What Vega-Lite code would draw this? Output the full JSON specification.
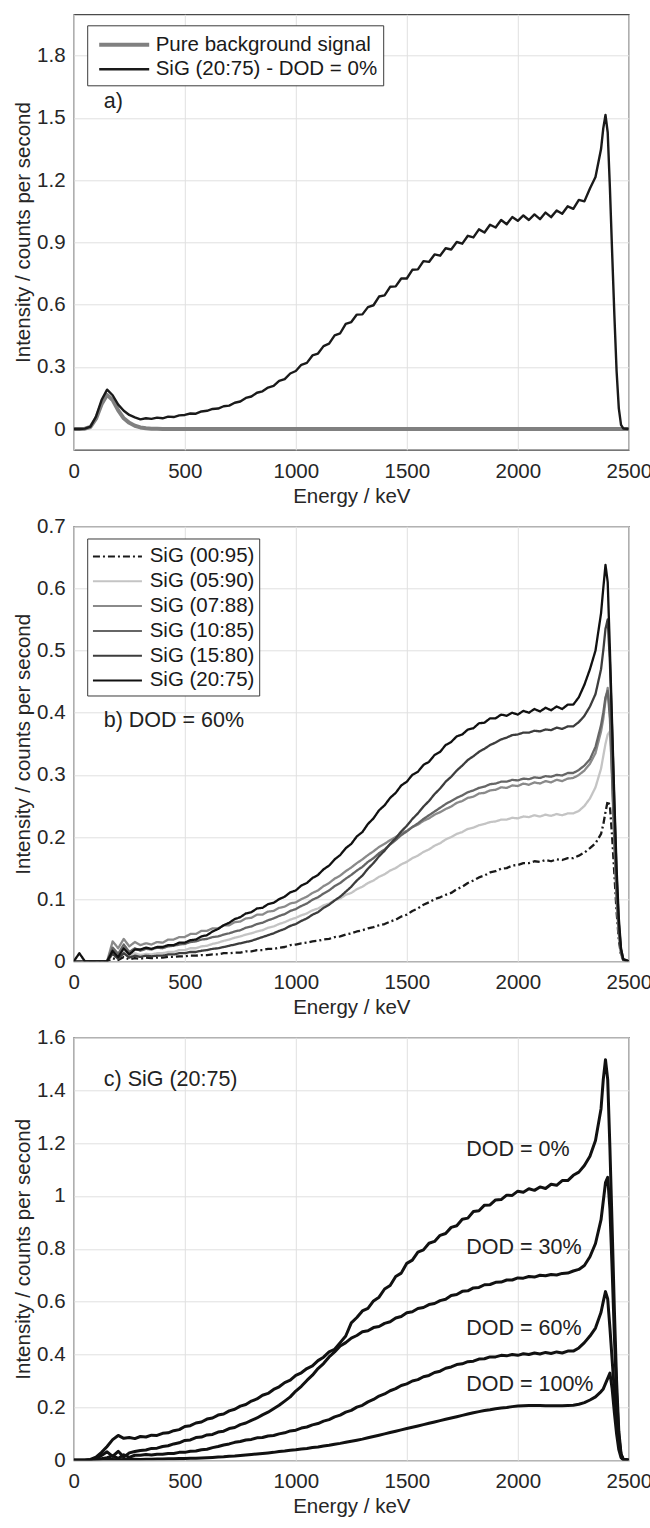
{
"$schema": "https://vega.github.io/schema/vega-lite/v6.json",
"padding": {"left": 12.8, "top": 13.3, "right": 0, "bottom": 0},
"bounds": "flush",
"spacing": 76,
"resolve": {"scale": {"color": "independent", "strokeDash": "independent", "strokeWidth": "independent"}, "legend": {"color": "independent", "strokeDash": "independent", "strokeWidth": "independent"}},
"config": {
 "font": "Liberation Sans",
 "view": {"stroke": "#4a4a4a", "strokeWidth": 1.2},
 "axis": {"grid": true, "gridColor": "#e0e0e0", "gridWidth": 1, "domain": false, "ticks": false, "tickSize": 0, "labelFontSize": 20.5, "labelColor": "#262626", "titleFontSize": 20.5, "titleFontWeight": "normal", "titleColor": "#262626", "labelFont": "Liberation Sans", "titleFont": "Liberation Sans", "labelOverlap": false, "labelFlush": false, "labelBound": false},
 "axisX": {"labelBaseline": "alphabetic", "labelPadding": 27.5, "titleY": 52.5, "titleBaseline": "alphabetic"},
 "axisY": {"labelPadding": 8.7, "titleX": -50.3, "titleBaseline": "middle"},
 "legend": {"labelLimit": 400, "labelFont": "Liberation Sans", "labelFontSize": 20.5, "labelColor": "#1a1a1a"}
},
"datasets": {
"a": [
{"E":0,"bg":0,"sig":0},{"E":25,"bg":0,"sig":0},{"E":50,"bg":0.002,"sig":0.002},{"E":75,"bg":0.01,"sig":0.012},{"E":100,"bg":0.05,"sig":0.06},{"E":125,"bg":0.12,"sig":0.14},{"E":150,"bg":0.165,"sig":0.19},{"E":175,"bg":0.14,"sig":0.163},{"E":200,"bg":0.09,"sig":0.118},{"E":225,"bg":0.052,"sig":0.088},{"E":250,"bg":0.03,"sig":0.068},{"E":275,"bg":0.016,"sig":0.056},{"E":300,"bg":0.008,"sig":0.047},{"E":325,"bg":0.004,"sig":0.052},{"E":350,"bg":0.002,"sig":0.049},{"E":375,"bg":0.001,"sig":0.055},
{"E":400,"bg":0,"sig":0.052},{"E":425,"bg":0,"sig":0.06},{"E":450,"bg":0,"sig":0.058},{"E":475,"bg":0,"sig":0.066},{"E":500,"bg":0,"sig":0.068},{"E":525,"bg":0,"sig":0.075},{"E":550,"bg":0,"sig":0.074},{"E":575,"bg":0,"sig":0.085},{"E":600,"bg":0,"sig":0.088},{"E":625,"bg":0,"sig":0.097},{"E":650,"bg":0,"sig":0.099},{"E":675,"bg":0,"sig":0.11},{"E":700,"bg":0,"sig":0.113},{"E":725,"bg":0,"sig":0.127},{"E":750,"bg":0,"sig":0.133},{"E":775,"bg":0,"sig":0.15},{"E":800,"bg":0,"sig":0.157},{"E":825,"bg":0,"sig":0.175},{"E":850,"bg":0,"sig":0.182},{"E":875,"bg":0,"sig":0.2},{"E":900,"bg":0,"sig":0.208},{"E":925,"bg":0,"sig":0.232},{"E":950,"bg":0,"sig":0.241},{"E":975,"bg":0,"sig":0.268},{"E":1000,"bg":0,"sig":0.28},{"E":1025,"bg":0,"sig":0.31},{"E":1050,"bg":0,"sig":0.319},{"E":1075,"bg":0,"sig":0.355},{"E":1100,"bg":0,"sig":0.364},{"E":1125,"bg":0,"sig":0.4},{"E":1150,"bg":0,"sig":0.412},{"E":1175,"bg":0,"sig":0.452},{"E":1200,"bg":0,"sig":0.462},{"E":1225,"bg":0,"sig":0.507},{"E":1250,"bg":0,"sig":0.516},{"E":1275,"bg":0,"sig":0.552},{"E":1300,"bg":0,"sig":0.553},{"E":1325,"bg":0,"sig":0.588},{"E":1350,"bg":0,"sig":0.597},{"E":1375,"bg":0,"sig":0.639},{"E":1400,"bg":0,"sig":0.645},{"E":1425,"bg":0,"sig":0.686},{"E":1450,"bg":0,"sig":0.688},{"E":1475,"bg":0,"sig":0.726},{"E":1500,"bg":0,"sig":0.726},{"E":1525,"bg":0,"sig":0.768},{"E":1550,"bg":0,"sig":0.77},{"E":1575,"bg":0,"sig":0.81},{"E":1600,"bg":0,"sig":0.806},{"E":1625,"bg":0,"sig":0.842},{"E":1650,"bg":0,"sig":0.836},{"E":1675,"bg":0,"sig":0.872},{"E":1700,"bg":0,"sig":0.866},{"E":1725,"bg":0,"sig":0.902},{"E":1750,"bg":0,"sig":0.894},{"E":1775,"bg":0,"sig":0.932},{"E":1800,"bg":0,"sig":0.924},{"E":1825,"bg":0,"sig":0.963},{"E":1850,"bg":0,"sig":0.948},{"E":1875,"bg":0,"sig":0.985},{"E":1900,"bg":0,"sig":0.972},{"E":1925,"bg":0,"sig":1.008},{"E":1950,"bg":0,"sig":0.988},{"E":1975,"bg":0,"sig":1.022},{"E":2000,"bg":0,"sig":1.004},{"E":2025,"bg":0,"sig":1.03},{"E":2050,"bg":0,"sig":1.008},{"E":2075,"bg":0,"sig":1.035},{"E":2100,"bg":0,"sig":1.012},{"E":2125,"bg":0,"sig":1.044},{"E":2150,"bg":0,"sig":1.022},{"E":2175,"bg":0,"sig":1.054},{"E":2200,"bg":0,"sig":1.038},{"E":2225,"bg":0,"sig":1.074},{"E":2250,"bg":0,"sig":1.062},{"E":2275,"bg":0,"sig":1.105},{"E":2300,"bg":0,"sig":1.098},{"E":2325,"bg":0,"sig":1.16},{"E":2350,"bg":0,"sig":1.215},{"E":2375,"bg":0,"sig":1.35},{"E":2385,"bg":0,"sig":1.45},{"E":2395,"bg":0,"sig":1.515},{"E":2405,"bg":0,"sig":1.43},{"E":2415,"bg":0,"sig":1.16},{"E":2425,"bg":0,"sig":0.85},{"E":2435,"bg":0,"sig":0.55},{"E":2445,"bg":0,"sig":0.28},{"E":2455,"bg":0,"sig":0.1},{"E":2465,"bg":0,"sig":0.02},{"E":2475,"bg":0,"sig":0.003},{"E":2500,"bg":0,"sig":0}
],
"b": [
{"E":0,"00:95":0,"05:90":0,"07:88":0,"10:85":0,"15:80":0,"20:75":0},
{"E":25,"00:95":0,"05:90":0,"07:88":0,"10:85":0,"15:80":0,"20:75":0.013},
{"E":50,"00:95":0,"05:90":0,"07:88":0,"10:85":0,"15:80":0,"20:75":0},
{"E":75,"00:95":0,"05:90":0,"07:88":0,"10:85":0,"15:80":0,"20:75":0},
{"E":100,"00:95":0,"05:90":0,"07:88":0,"10:85":0,"15:80":0,"20:75":0},
{"E":125,"00:95":0,"05:90":0,"07:88":0,"10:85":0,"15:80":0,"20:75":0},
{"E":150,"00:95":0,"05:90":0,"07:88":0,"10:85":0,"15:80":0,"20:75":0},
{"E":175,"00:95":0.005,"05:90":0.016,"07:88":0.032,"10:85":0.022,"15:80":0.012,"20:75":0.017},
{"E":200,"00:95":0.002,"05:90":0.007,"07:88":0.021,"10:85":0.012,"15:80":0.004,"20:75":0.007},
{"E":225,"00:95":0.007,"05:90":0.016,"07:88":0.036,"10:85":0.027,"15:80":0.013,"20:75":0.021},
{"E":250,"00:95":0.003,"05:90":0.009,"07:88":0.024,"10:85":0.015,"15:80":0.006,"20:75":0.011},
{"E":275,"00:95":0.005,"05:90":0.013,"07:88":0.031,"10:85":0.021,"15:80":0.009,"20:75":0.019},
{"E":300,"00:95":0.004,"05:90":0.01,"07:88":0.026,"10:85":0.017,"15:80":0.007,"20:75":0.019},
{"E":325,"00:95":0.006,"05:90":0.012,"07:88":0.029,"10:85":0.02,"15:80":0.009,"20:75":0.022},
{"E":350,"00:95":0.005,"05:90":0.011,"07:88":0.027,"10:85":0.019,"15:80":0.008,"20:75":0.02},
{"E":375,"00:95":0.006,"05:90":0.013,"07:88":0.031,"10:85":0.022,"15:80":0.009,"20:75":0.023},
{"E":400,"00:95":0.006,"05:90":0.013,"07:88":0.03,"10:85":0.021,"15:80":0.009,"20:75":0.023},
{"E":425,"00:95":0.007,"05:90":0.015,"07:88":0.035,"10:85":0.024,"15:80":0.011,"20:75":0.026},
{"E":450,"00:95":0.007,"05:90":0.015,"07:88":0.035,"10:85":0.025,"15:80":0.011,"20:75":0.026},
{"E":475,"00:95":0.008,"05:90":0.018,"07:88":0.039,"10:85":0.027,"15:80":0.013,"20:75":0.03},
{"E":500,"00:95":0.008,"05:90":0.018,"07:88":0.039,"10:85":0.028,"15:80":0.013,"20:75":0.03},
{"E":525,"00:95":0.009,"05:90":0.021,"07:88":0.044,"10:85":0.031,"15:80":0.015,"20:75":0.034},
{"E":550,"00:95":0.009,"05:90":0.021,"07:88":0.044,"10:85":0.032,"15:80":0.015,"20:75":0.035},
{"E":575,"00:95":0.01,"05:90":0.024,"07:88":0.049,"10:85":0.035,"15:80":0.017,"20:75":0.04},
{"E":600,"00:95":0.01,"05:90":0.025,"07:88":0.049,"10:85":0.036,"15:80":0.018,"20:75":0.042},
{"E":625,"00:95":0.011,"05:90":0.028,"07:88":0.053,"10:85":0.039,"15:80":0.02,"20:75":0.048},
{"E":650,"00:95":0.011,"05:90":0.03,"07:88":0.053,"10:85":0.04,"15:80":0.021,"20:75":0.052},
{"E":675,"00:95":0.013,"05:90":0.033,"07:88":0.058,"10:85":0.043,"15:80":0.023,"20:75":0.058},
{"E":700,"00:95":0.013,"05:90":0.035,"07:88":0.058,"10:85":0.045,"15:80":0.025,"20:75":0.062},
{"E":725,"00:95":0.014,"05:90":0.038,"07:88":0.063,"10:85":0.048,"15:80":0.027,"20:75":0.068},
{"E":750,"00:95":0.014,"05:90":0.04,"07:88":0.064,"10:85":0.05,"15:80":0.029,"20:75":0.071},
{"E":775,"00:95":0.016,"05:90":0.043,"07:88":0.069,"10:85":0.054,"15:80":0.031,"20:75":0.077},
{"E":800,"00:95":0.016,"05:90":0.045,"07:88":0.07,"10:85":0.056,"15:80":0.033,"20:75":0.079},
{"E":825,"00:95":0.018,"05:90":0.048,"07:88":0.075,"10:85":0.06,"15:80":0.036,"20:75":0.085},
{"E":850,"00:95":0.018,"05:90":0.05,"07:88":0.075,"10:85":0.062,"15:80":0.039,"20:75":0.086},
{"E":875,"00:95":0.02,"05:90":0.054,"07:88":0.08,"10:85":0.066,"15:80":0.042,"20:75":0.092},
{"E":900,"00:95":0.02,"05:90":0.056,"07:88":0.081,"10:85":0.069,"15:80":0.045,"20:75":0.094},
{"E":925,"00:95":0.022,"05:90":0.06,"07:88":0.086,"10:85":0.073,"15:80":0.049,"20:75":0.1},
{"E":950,"00:95":0.023,"05:90":0.063,"07:88":0.088,"10:85":0.076,"15:80":0.052,"20:75":0.104},
{"E":975,"00:95":0.026,"05:90":0.067,"07:88":0.093,"10:85":0.081,"15:80":0.057,"20:75":0.111},
{"E":1000,"00:95":0.027,"05:90":0.07,"07:88":0.095,"10:85":0.084,"15:80":0.06,"20:75":0.114},
{"E":1025,"00:95":0.029,"05:90":0.074,"07:88":0.1,"10:85":0.089,"15:80":0.065,"20:75":0.122},
{"E":1050,"00:95":0.03,"05:90":0.077,"07:88":0.104,"10:85":0.093,"15:80":0.069,"20:75":0.126},
{"E":1075,"00:95":0.032,"05:90":0.082,"07:88":0.11,"10:85":0.099,"15:80":0.075,"20:75":0.134},
{"E":1100,"00:95":0.033,"05:90":0.085,"07:88":0.114,"10:85":0.103,"15:80":0.079,"20:75":0.139},
{"E":1125,"00:95":0.035,"05:90":0.09,"07:88":0.121,"10:85":0.109,"15:80":0.086,"20:75":0.148},
{"E":1150,"00:95":0.036,"05:90":0.093,"07:88":0.126,"10:85":0.114,"15:80":0.091,"20:75":0.154},
{"E":1175,"00:95":0.039,"05:90":0.098,"07:88":0.133,"10:85":0.121,"15:80":0.098,"20:75":0.164},
{"E":1200,"00:95":0.04,"05:90":0.101,"07:88":0.138,"10:85":0.126,"15:80":0.104,"20:75":0.171},
{"E":1225,"00:95":0.043,"05:90":0.107,"07:88":0.145,"10:85":0.133,"15:80":0.112,"20:75":0.182},
{"E":1250,"00:95":0.045,"05:90":0.11,"07:88":0.151,"10:85":0.139,"15:80":0.12,"20:75":0.189},
{"E":1275,"00:95":0.048,"05:90":0.116,"07:88":0.158,"10:85":0.146,"15:80":0.13,"20:75":0.201},
{"E":1300,"00:95":0.05,"05:90":0.12,"07:88":0.164,"10:85":0.152,"15:80":0.138,"20:75":0.208},
{"E":1325,"00:95":0.053,"05:90":0.126,"07:88":0.171,"10:85":0.16,"15:80":0.149,"20:75":0.221},
{"E":1350,"00:95":0.055,"05:90":0.13,"07:88":0.177,"10:85":0.166,"15:80":0.158,"20:75":0.23},
{"E":1375,"00:95":0.058,"05:90":0.136,"07:88":0.184,"10:85":0.174,"15:80":0.169,"20:75":0.243},
{"E":1400,"00:95":0.06,"05:90":0.14,"07:88":0.189,"10:85":0.18,"15:80":0.178,"20:75":0.251},
{"E":1425,"00:95":0.064,"05:90":0.146,"07:88":0.195,"10:85":0.188,"15:80":0.189,"20:75":0.263},
{"E":1450,"00:95":0.067,"05:90":0.15,"07:88":0.2,"10:85":0.195,"15:80":0.198,"20:75":0.271},
{"E":1475,"00:95":0.072,"05:90":0.156,"07:88":0.206,"10:85":0.203,"15:80":0.209,"20:75":0.283},
{"E":1500,"00:95":0.075,"05:90":0.16,"07:88":0.21,"10:85":0.209,"15:80":0.218,"20:75":0.289},
{"E":1525,"00:95":0.081,"05:90":0.166,"07:88":0.216,"10:85":0.216,"15:80":0.229,"20:75":0.3},
{"E":1550,"00:95":0.085,"05:90":0.17,"07:88":0.22,"10:85":0.222,"15:80":0.238,"20:75":0.305},
{"E":1575,"00:95":0.091,"05:90":0.176,"07:88":0.226,"10:85":0.229,"15:80":0.249,"20:75":0.316},
{"E":1600,"00:95":0.095,"05:90":0.18,"07:88":0.23,"10:85":0.235,"15:80":0.258,"20:75":0.321},
{"E":1625,"00:95":0.1,"05:90":0.186,"07:88":0.236,"10:85":0.241,"15:80":0.269,"20:75":0.332},
{"E":1650,"00:95":0.103,"05:90":0.19,"07:88":0.24,"10:85":0.247,"15:80":0.278,"20:75":0.337},
{"E":1675,"00:95":0.107,"05:90":0.196,"07:88":0.245,"10:85":0.253,"15:80":0.289,"20:75":0.348},
{"E":1700,"00:95":0.11,"05:90":0.2,"07:88":0.249,"10:85":0.258,"15:80":0.297,"20:75":0.353},
{"E":1725,"00:95":0.116,"05:90":0.205,"07:88":0.255,"10:85":0.263,"15:80":0.307,"20:75":0.362},
{"E":1750,"00:95":0.12,"05:90":0.208,"07:88":0.258,"10:85":0.267,"15:80":0.315,"20:75":0.365},
{"E":1775,"00:95":0.126,"05:90":0.213,"07:88":0.263,"10:85":0.272,"15:80":0.324,"20:75":0.373},
{"E":1800,"00:95":0.13,"05:90":0.215,"07:88":0.265,"10:85":0.275,"15:80":0.33,"20:75":0.375},
{"E":1825,"00:95":0.135,"05:90":0.219,"07:88":0.27,"10:85":0.279,"15:80":0.337,"20:75":0.383},
{"E":1850,"00:95":0.138,"05:90":0.221,"07:88":0.271,"10:85":0.281,"15:80":0.342,"20:75":0.384},
{"E":1875,"00:95":0.143,"05:90":0.224,"07:88":0.275,"10:85":0.285,"15:80":0.348,"20:75":0.391},
{"E":1900,"00:95":0.145,"05:90":0.225,"07:88":0.276,"10:85":0.286,"15:80":0.352,"20:75":0.391},
{"E":1925,"00:95":0.149,"05:90":0.228,"07:88":0.28,"10:85":0.289,"15:80":0.357,"20:75":0.397},
{"E":1950,"00:95":0.15,"05:90":0.228,"07:88":0.279,"10:85":0.289,"15:80":0.36,"20:75":0.395},
{"E":1975,"00:95":0.154,"05:90":0.231,"07:88":0.283,"10:85":0.292,"15:80":0.364,"20:75":0.4},
{"E":2000,"00:95":0.155,"05:90":0.23,"07:88":0.282,"10:85":0.291,"15:80":0.365,"20:75":0.397},
{"E":2025,"00:95":0.158,"05:90":0.233,"07:88":0.286,"10:85":0.294,"15:80":0.368,"20:75":0.403},
{"E":2050,"00:95":0.158,"05:90":0.232,"07:88":0.284,"10:85":0.293,"15:80":0.368,"20:75":0.4},
{"E":2075,"00:95":0.161,"05:90":0.235,"07:88":0.288,"10:85":0.296,"15:80":0.371,"20:75":0.406},
{"E":2100,"00:95":0.16,"05:90":0.233,"07:88":0.286,"10:85":0.295,"15:80":0.37,"20:75":0.402},
{"E":2125,"00:95":0.163,"05:90":0.236,"07:88":0.29,"10:85":0.298,"15:80":0.373,"20:75":0.408},
{"E":2150,"00:95":0.161,"05:90":0.234,"07:88":0.288,"10:85":0.297,"15:80":0.372,"20:75":0.404},
{"E":2175,"00:95":0.164,"05:90":0.237,"07:88":0.292,"10:85":0.3,"15:80":0.376,"20:75":0.41},
{"E":2200,"00:95":0.163,"05:90":0.235,"07:88":0.29,"10:85":0.299,"15:80":0.374,"20:75":0.406},
{"E":2225,"00:95":0.166,"05:90":0.238,"07:88":0.294,"10:85":0.303,"15:80":0.378,"20:75":0.413},
{"E":2250,"00:95":0.166,"05:90":0.238,"07:88":0.295,"10:85":0.303,"15:80":0.378,"20:75":0.413},
{"E":2275,"00:95":0.17,"05:90":0.242,"07:88":0.3,"10:85":0.308,"15:80":0.385,"20:75":0.425},
{"E":2300,"00:95":0.175,"05:90":0.25,"07:88":0.307,"10:85":0.315,"15:80":0.395,"20:75":0.445},
{"E":2325,"00:95":0.182,"05:90":0.262,"07:88":0.318,"10:85":0.325,"15:80":0.41,"20:75":0.47},
{"E":2350,"00:95":0.19,"05:90":0.28,"07:88":0.335,"10:85":0.345,"15:80":0.43,"20:75":0.5},
{"E":2375,"00:95":0.205,"05:90":0.31,"07:88":0.37,"10:85":0.38,"15:80":0.47,"20:75":0.56},
{"E":2385,"00:95":0.22,"05:90":0.33,"07:88":0.39,"10:85":0.4,"15:80":0.5,"20:75":0.6},
{"E":2395,"00:95":0.24,"05:90":0.35,"07:88":0.42,"10:85":0.425,"15:80":0.535,"20:75":0.638},
{"E":2405,"00:95":0.258,"05:90":0.365,"07:88":0.44,"10:85":0.435,"15:80":0.55,"20:75":0.61},
{"E":2415,"00:95":0.25,"05:90":0.37,"07:88":0.4,"10:85":0.39,"15:80":0.48,"20:75":0.5},
{"E":2425,"00:95":0.2,"05:90":0.3,"07:88":0.3,"10:85":0.29,"15:80":0.37,"20:75":0.38},
{"E":2435,"00:95":0.14,"05:90":0.2,"07:88":0.2,"10:85":0.19,"15:80":0.25,"20:75":0.26},
{"E":2445,"00:95":0.08,"05:90":0.11,"07:88":0.11,"10:85":0.1,"15:80":0.14,"20:75":0.15},
{"E":2455,"00:95":0.035,"05:90":0.05,"07:88":0.05,"10:85":0.045,"15:80":0.06,"20:75":0.07},
{"E":2465,"00:95":0.01,"05:90":0.015,"07:88":0.015,"10:85":0.012,"15:80":0.02,"20:75":0.02},
{"E":2475,"00:95":0.002,"05:90":0.003,"07:88":0.003,"10:85":0.002,"15:80":0.004,"20:75":0.003},
{"E":2500,"00:95":0,"05:90":0,"07:88":0,"10:85":0,"15:80":0,"20:75":0}
],
"c": [
{"E":0,"d0":0,"d30":0,"d60":0,"d100":0},{"E":25,"d0":0,"d30":0,"d60":0,"d100":0},{"E":50,"d0":0,"d30":0,"d60":0,"d100":0},{"E":75,"d0":0.003,"d30":0.002,"d60":0,"d100":0},{"E":100,"d0":0.012,"d30":0.006,"d60":0.002,"d100":0.001},{"E":125,"d0":0.03,"d30":0.018,"d60":0.006,"d100":0.002},{"E":150,"d0":0.052,"d30":0.032,"d60":0.01,"d100":0.003},{"E":175,"d0":0.078,"d30":0.015,"d60":0.017,"d100":0.003},{"E":200,"d0":0.094,"d30":0.034,"d60":0.007,"d100":0.002},{"E":225,"d0":0.083,"d30":0.012,"d60":0.021,"d100":0.003},{"E":250,"d0":0.086,"d30":0.028,"d60":0.011,"d100":0.003},{"E":275,"d0":0.082,"d30":0.033,"d60":0.019,"d100":0.004},{"E":300,"d0":0.09,"d30":0.037,"d60":0.019,"d100":0.003},{"E":325,"d0":0.088,"d30":0.039,"d60":0.022,"d100":0.004},{"E":350,"d0":0.095,"d30":0.045,"d60":0.02,"d100":0.004},{"E":375,"d0":0.094,"d30":0.046,"d60":0.023,"d100":0.005},{"E":400,"d0":0.102,"d30":0.052,"d60":0.023,"d100":0.005},{"E":425,"d0":0.104,"d30":0.055,"d60":0.026,"d100":0.006},{"E":450,"d0":0.112,"d30":0.062,"d60":0.026,"d100":0.006},{"E":475,"d0":0.116,"d30":0.066,"d60":0.03,"d100":0.007},{"E":500,"d0":0.128,"d30":0.075,"d60":0.03,"d100":0.007},{"E":525,"d0":0.131,"d30":0.077,"d60":0.034,"d100":0.008},{"E":550,"d0":0.141,"d30":0.086,"d60":0.035,"d100":0.008},{"E":575,"d0":0.145,"d30":0.088,"d60":0.04,"d100":0.009},{"E":600,"d0":0.156,"d30":0.096,"d60":0.042,"d100":0.01},{"E":625,"d0":0.16,"d30":0.098,"d60":0.048,"d100":0.011},{"E":650,"d0":0.171,"d30":0.107,"d60":0.052,"d100":0.012},{"E":675,"d0":0.175,"d30":0.11,"d60":0.058,"d100":0.013},{"E":700,"d0":0.187,"d30":0.12,"d60":0.062,"d100":0.015},{"E":725,"d0":0.193,"d30":0.124,"d60":0.068,"d100":0.016},{"E":750,"d0":0.205,"d30":0.135,"d60":0.071,"d100":0.018},{"E":775,"d0":0.211,"d30":0.141,"d60":0.077,"d100":0.02},{"E":800,"d0":0.224,"d30":0.151,"d60":0.079,"d100":0.022},{"E":825,"d0":0.232,"d30":0.16,"d60":0.085,"d100":0.024},{"E":850,"d0":0.246,"d30":0.172,"d60":0.086,"d100":0.026},{"E":875,"d0":0.253,"d30":0.182,"d60":0.092,"d100":0.028},{"E":900,"d0":0.268,"d30":0.195,"d60":0.094,"d100":0.03},{"E":925,"d0":0.278,"d30":0.208,"d60":0.1,"d100":0.033},{"E":950,"d0":0.294,"d30":0.224,"d60":0.104,"d100":0.035},{"E":975,"d0":0.303,"d30":0.24,"d60":0.111,"d100":0.038},{"E":1000,"d0":0.321,"d30":0.262,"d60":0.114,"d100":0.04},{"E":1025,"d0":0.331,"d30":0.28,"d60":0.122,"d100":0.043},{"E":1050,"d0":0.347,"d30":0.302,"d60":0.126,"d100":0.045},{"E":1075,"d0":0.357,"d30":0.322,"d60":0.134,"d100":0.048},{"E":1100,"d0":0.377,"d30":0.347,"d60":0.139,"d100":0.05},{"E":1125,"d0":0.39,"d30":0.366,"d60":0.148,"d100":0.054},{"E":1150,"d0":0.41,"d30":0.391,"d60":0.154,"d100":0.057},{"E":1175,"d0":0.42,"d30":0.41,"d60":0.164,"d100":0.061},{"E":1200,"d0":0.445,"d30":0.432,"d60":0.171,"d100":0.064},{"E":1225,"d0":0.47,"d30":0.445,"d60":0.182,"d100":0.068},{"E":1250,"d0":0.52,"d30":0.462,"d60":0.189,"d100":0.072},{"E":1275,"d0":0.54,"d30":0.472,"d60":0.201,"d100":0.076},{"E":1300,"d0":0.565,"d30":0.486,"d60":0.208,"d100":0.08},{"E":1325,"d0":0.575,"d30":0.49,"d60":0.221,"d100":0.085},{"E":1350,"d0":0.603,"d30":0.502,"d60":0.23,"d100":0.09},{"E":1375,"d0":0.617,"d30":0.506,"d60":0.243,"d100":0.095},{"E":1400,"d0":0.648,"d30":0.518,"d60":0.251,"d100":0.1},{"E":1425,"d0":0.661,"d30":0.524,"d60":0.263,"d100":0.105},{"E":1450,"d0":0.695,"d30":0.538,"d60":0.271,"d100":0.11},{"E":1475,"d0":0.708,"d30":0.544,"d60":0.283,"d100":0.115},{"E":1500,"d0":0.745,"d30":0.558,"d60":0.289,"d100":0.12},{"E":1525,"d0":0.757,"d30":0.562,"d60":0.3,"d100":0.125},{"E":1550,"d0":0.787,"d30":0.574,"d60":0.305,"d100":0.13},{"E":1575,"d0":0.796,"d30":0.578,"d60":0.316,"d100":0.135},{"E":1600,"d0":0.821,"d30":0.589,"d60":0.321,"d100":0.14},{"E":1625,"d0":0.828,"d30":0.593,"d60":0.332,"d100":0.145},{"E":1650,"d0":0.851,"d30":0.604,"d60":0.337,"d100":0.15},{"E":1675,"d0":0.858,"d30":0.609,"d60":0.348,"d100":0.155},{"E":1700,"d0":0.881,"d30":0.623,"d60":0.353,"d100":0.16},{"E":1725,"d0":0.887,"d30":0.627,"d60":0.362,"d100":0.165},{"E":1750,"d0":0.912,"d30":0.639,"d60":0.365,"d100":0.17},{"E":1775,"d0":0.916,"d30":0.641,"d60":0.373,"d100":0.175},{"E":1800,"d0":0.941,"d30":0.652,"d60":0.375,"d100":0.18},{"E":1825,"d0":0.944,"d30":0.654,"d60":0.383,"d100":0.184},{"E":1850,"d0":0.965,"d30":0.664,"d60":0.384,"d100":0.188},{"E":1875,"d0":0.966,"d30":0.665,"d60":0.391,"d100":0.191},{"E":1900,"d0":0.985,"d30":0.673,"d60":0.391,"d100":0.195},{"E":1925,"d0":0.986,"d30":0.674,"d60":0.397,"d100":0.198},{"E":1950,"d0":1.003,"d30":0.682,"d60":0.395,"d100":0.2},{"E":1975,"d0":1.002,"d30":0.682,"d60":0.4,"d100":0.203},{"E":2000,"d0":1.018,"d30":0.69,"d60":0.397,"d100":0.205},{"E":2025,"d0":1.014,"d30":0.689,"d60":0.403,"d100":0.206},{"E":2050,"d0":1.027,"d30":0.695,"d60":0.4,"d100":0.207},{"E":2075,"d0":1.021,"d30":0.693,"d60":0.406,"d100":0.207},{"E":2100,"d0":1.034,"d30":0.7,"d60":0.402,"d100":0.207},{"E":2125,"d0":1.028,"d30":0.698,"d60":0.408,"d100":0.206},{"E":2150,"d0":1.044,"d30":0.703,"d60":0.404,"d100":0.206},{"E":2175,"d0":1.04,"d30":0.701,"d60":0.41,"d100":0.206},{"E":2200,"d0":1.058,"d30":0.707,"d60":0.406,"d100":0.206},{"E":2225,"d0":1.058,"d30":0.708,"d60":0.413,"d100":0.207},{"E":2250,"d0":1.078,"d30":0.716,"d60":0.413,"d100":0.208},{"E":2275,"d0":1.09,"d30":0.722,"d60":0.425,"d100":0.212},{"E":2300,"d0":1.115,"d30":0.737,"d60":0.445,"d100":0.218},{"E":2325,"d0":1.15,"d30":0.77,"d60":0.47,"d100":0.228},{"E":2350,"d0":1.21,"d30":0.82,"d60":0.5,"d100":0.24},{"E":2375,"d0":1.33,"d30":0.91,"d60":0.56,"d100":0.26},{"E":2385,"d0":1.44,"d30":0.98,"d60":0.6,"d100":0.27},{"E":2395,"d0":1.515,"d30":1.05,"d60":0.638,"d100":0.29},{"E":2405,"d0":1.44,"d30":1.07,"d60":0.61,"d100":0.31},{"E":2415,"d0":1.18,"d30":0.95,"d60":0.5,"d100":0.33},{"E":2425,"d0":0.88,"d30":0.72,"d60":0.38,"d100":0.27},{"E":2435,"d0":0.57,"d30":0.47,"d60":0.26,"d100":0.18},{"E":2445,"d0":0.3,"d30":0.25,"d60":0.15,"d100":0.1},{"E":2455,"d0":0.11,"d30":0.09,"d60":0.07,"d100":0.04},{"E":2465,"d0":0.025,"d30":0.02,"d60":0.02,"d100":0.01},{"E":2475,"d0":0.004,"d30":0.003,"d60":0.003,"d100":0.002},{"E":2500,"d0":0,"d30":0,"d60":0,"d100":0}
]
},
"vconcat": [
{
 "width": 555, "height": 435.5,
 "layer": [
  {"data": {"name": "a"}, "transform": [{"fold": ["bg", "sig"], "as": ["series", "I"]}],
   "mark": {"type": "line", "clip": true, "strokeJoin": "round"},
   "encoding": {
    "x": {"field": "E", "type": "quantitative", "scale": {"domain": [0, 2500], "nice": false}, "axis": {"values": [0, 500, 1000, 1500, 2000, 2500], "format": "d", "title": "Energy / keV"}},
    "y": {"field": "I", "type": "quantitative", "scale": {"domain": [-0.1, 2.0], "nice": false, "zero": false}, "axis": {"values": [0, 0.3, 0.6, 0.9, 1.2, 1.5, 1.8], "format": ".1~f", "title": "Intensity / counts per second"}},
    "color": {"field": "series", "type": "nominal", "scale": {"domain": ["bg", "sig"], "range": ["#808080", "#1a1a1a"]},
      "legend": {"title": null, "orient": "none", "legendX": 13.4, "legendY": 11, "symbolType": "M-1,0H3", "symbolSize": 625, "symbolStrokeWidth": 2, "labelOffset": 29.5, "padding": 5, "symbolOffset": 5, "rowPadding": 0, "strokeColor": "#3a3a3a", "fillColor": "white", "labelExpr": "datum.label == 'bg' ? 'Pure background signal' : 'SiG (20:75) - DOD = 0%'"}},
    "strokeWidth": {"field": "series", "type": "nominal", "scale": {"domain": ["bg", "sig"], "range": [4, 2.4]}, "legend": null}
   }},
  {"data": {"values": [{"E": 135, "I": 1.575, "t": "a)"}]},
   "mark": {"type": "text", "align": "left", "baseline": "middle", "fontSize": 21.5, "color": "#222222", "font": "Liberation Sans"},
   "encoding": {"x": {"field": "E", "type": "quantitative"}, "y": {"field": "I", "type": "quantitative"}, "text": {"field": "t"}}}
 ]
},
{
 "width": 555, "height": 435,
 "layer": [
  {"data": {"name": "b"}, "transform": [{"fold": ["00:95", "05:90", "07:88", "10:85", "15:80", "20:75"], "as": ["series", "I"]}],
   "mark": {"type": "line", "clip": true, "strokeWidth": 2.3, "strokeJoin": "round"},
   "encoding": {
    "x": {"field": "E", "type": "quantitative", "scale": {"domain": [0, 2500], "nice": false}, "axis": {"values": [0, 500, 1000, 1500, 2000, 2500], "format": "d", "title": "Energy / keV"}},
    "y": {"field": "I", "type": "quantitative", "scale": {"domain": [0, 0.7], "nice": false}, "axis": {"values": [0, 0.1, 0.2, 0.3, 0.4, 0.5, 0.6, 0.7], "format": ".1~f", "title": "Intensity / counts per second"}},
    "color": {"field": "series", "type": "nominal", "scale": {"domain": ["00:95", "05:90", "07:88", "10:85", "15:80", "20:75"], "range": ["#1a1a1a", "#c4c4c4", "#8a8a8a", "#666666", "#3d3d3d", "#111111"]},
      "legend": {"title": null, "orient": "none", "legendX": 13.4, "legendY": 12.2, "symbolType": "M-1,0H3", "symbolSize": 600, "symbolStrokeWidth": 2, "labelOffset": 31, "padding": 4.5, "symbolOffset": 0, "rowPadding": 0.8, "strokeColor": "#3a3a3a", "fillColor": "white", "labelExpr": "'SiG (' + datum.label + ')'"}},
    "strokeDash": {"field": "series", "type": "nominal", "scale": {"domain": ["00:95", "05:90", "07:88", "10:85", "15:80", "20:75"], "range": [[7, 3, 2, 3], [1, 0], [1, 0], [1, 0], [1, 0], [1, 0]]},
      "legend": {"title": null, "orient": "none", "legendX": 13.4, "legendY": 12.2, "symbolType": "M-1,0H3", "symbolSize": 600, "symbolStrokeWidth": 2, "labelOffset": 31, "padding": 4.5, "symbolOffset": 0, "rowPadding": 0.8, "strokeColor": "#3a3a3a", "fillColor": "white", "labelExpr": "'SiG (' + datum.label + ')'"}}
   }},
  {"data": {"values": [{"E": 135, "I": 0.387, "t": "b) DOD = 60%"}]},
   "mark": {"type": "text", "align": "left", "baseline": "middle", "fontSize": 21.5, "color": "#222222", "font": "Liberation Sans"},
   "encoding": {"x": {"field": "E", "type": "quantitative"}, "y": {"field": "I", "type": "quantitative"}, "text": {"field": "t"}}}
 ]
},
{
 "width": 555, "height": 423,
 "layer": [
  {"data": {"name": "c"}, "transform": [{"fold": ["d0", "d30", "d60", "d100"], "as": ["series", "I"]}],
   "mark": {"type": "line", "clip": true, "color": "#111111", "strokeJoin": "round"},
   "encoding": {
    "x": {"field": "E", "type": "quantitative", "scale": {"domain": [0, 2500], "nice": false}, "axis": {"values": [0, 500, 1000, 1500, 2000, 2500], "format": "d", "title": "Energy / keV"}},
    "y": {"field": "I", "type": "quantitative", "scale": {"domain": [0, 1.6], "nice": false}, "axis": {"values": [0, 0.2, 0.4, 0.6, 0.8, 1, 1.2, 1.4, 1.6], "format": ".1~f", "title": "Intensity / counts per second"}},
    "detail": {"field": "series", "type": "nominal"},
    "strokeWidth": {"field": "series", "type": "nominal", "scale": {"domain": ["d0", "d30", "d60", "d100"], "range": [3, 3, 2.2, 2]}, "legend": null}
   }},
  {"data": {"values": [{"E": 135, "I": 1.437, "t": "c) SiG (20:75)"}, {"E": 1768, "I": 1.174, "t": "DOD = 0%"}, {"E": 1768, "I": 0.803, "t": "DOD = 30%"}, {"E": 1768, "I": 0.496, "t": "DOD = 60%"}, {"E": 1768, "I": 0.284, "t": "DOD = 100%"}]},
   "mark": {"type": "text", "align": "left", "baseline": "middle", "fontSize": 21.5, "color": "#222222", "font": "Liberation Sans"},
   "encoding": {"x": {"field": "E", "type": "quantitative"}, "y": {"field": "I", "type": "quantitative"}, "text": {"field": "t"}}}
 ]
}
]
}
